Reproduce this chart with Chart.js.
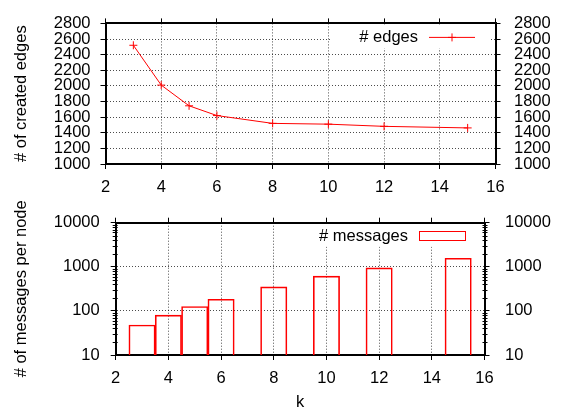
<!DOCTYPE html>
<html>
<head>
<meta charset="utf-8">
<title>edges / messages vs k</title>
<script src="https://cdn.jsdelivr.net/npm/chart.js@4.4.1/dist/chart.umd.min.js"></script>
<style>
    html, body { margin: 0; padding: 0; background: #fff; }
    #wrap { position: relative; width: 563px; height: 412px; overflow: hidden; }
    #wrap canvas { position: absolute; left: 0; }
</style>
</head>
<body>
<div id="wrap">
    <canvas id="edgesChart" width="563" height="200" style="top:0px"></canvas>
    <canvas id="msgChart" width="563" height="222" style="top:190px"></canvas>
</div>
<script>
// ---- data ----
const kValues = [3, 4, 5, 6, 8, 10, 12, 15];
const edgeCounts = [2520, 2010, 1745, 1620, 1520, 1510, 1482, 1462];
const messageCounts = [48, 80, 126, 184, 352, 612, 945, 1565];
const kTicks = [2, 4, 6, 8, 10, 12, 14, 16];
const edgeTicks = [1000, 1200, 1400, 1600, 1800, 2000, 2200, 2400, 2600, 2800];
const messageTicks = [10, 100, 1000, 10000];

const FONT = { family: "'Liberation Sans', Arial, Helvetica, sans-serif", size: 16.5 };
const RED = '#ff0000';
const GRID = 'rgba(0,0,0,0.7)';

Chart.defaults.font.family = FONT.family;
Chart.defaults.font.size = FONT.size;
Chart.defaults.color = '#000';

// fixed axis box sizes so the plot areas land where the reference has them
const fixWidth = w => scale => { scale.width = w; };
const fixHeight = h => scale => { scale.height = h; };
const useTicks = list => scale => { scale.ticks = list.map(v => ({ value: v })); };

function xAxes(cfg) {
    return {
        x: {
            type: 'linear', position: 'bottom', min: 2, max: 16, offset: false,
            afterBuildTicks: useTicks(kTicks),
            afterFit: fixHeight(cfg.bottom),
            ticks: { autoSkip: false, maxRotation: 0, padding: cfg.xPad, font: FONT, color: '#000' },
            grid: { color: GRID, tickBorderDash: [], tickColor: '#000', tickLength: 5, offset: false },
            border: { color: '#000', width: 2, dash: [1, 2] },
            title: cfg.xTitle ? { display: true, text: cfg.xTitle, font: FONT, color: '#000',
                                  padding: { top: 0, bottom: 0 } } : { display: false }
        },
        x2: {
            type: 'linear', position: 'top', min: 2, max: 16, offset: false,
            afterBuildTicks: useTicks(kTicks),
            afterFit: fixHeight(cfg.top),
            ticks: { display: false, autoSkip: false },
            grid: { drawOnChartArea: false, tickColor: '#000', tickLength: 5, offset: false },
            border: { color: '#000', width: 2 }
        }
    };
}

function yAxes(cfg) {
    const common = {
        type: cfg.type, min: cfg.min, max: cfg.max,
        afterBuildTicks: useTicks(cfg.ticks)
    };
    return {
        y: Object.assign({}, common, {
            position: 'left',
            afterFit: fixWidth(cfg.left),
            ticks: { autoSkip: false, padding: cfg.lPad, font: FONT, color: '#000', callback: v => String(v) },
            grid: { color: GRID, tickBorderDash: [], tickColor: '#000', tickLength: 5 },
            border: { color: '#000', width: 2, dash: [1, 2] },
            title: { display: true, text: cfg.title, font: FONT, color: '#000',
                     padding: { top: 12, bottom: 0 } }
        }),
        y2: Object.assign({}, common, {
            position: 'right',
            afterFit: fixWidth(cfg.right),
            ticks: { autoSkip: false, padding: cfg.rPad, font: FONT, color: '#000', callback: v => String(v) },
            grid: { drawOnChartArea: false, tickColor: '#000', tickLength: 5 },
            border: { color: '#000', width: 2 }
        })
    };
}

// gnuplot-like key: opaque box with label and a sample of the series
function keyPlugin(opts) {
    return {
        id: 'key',
        afterDraw(chart) {
            const a = chart.chartArea;
            const ctx = chart.ctx;
            const cy = a.top + opts.dy;
            ctx.save();
            ctx.fillStyle = '#fff';
            ctx.fillRect(a.right - opts.boxLeft, a.top + 2, opts.boxLeft - opts.boxRight, opts.boxH);
            ctx.fillStyle = '#000';
            ctx.font = FONT.size + 'px ' + FONT.family;
            ctx.textAlign = 'right';
            ctx.textBaseline = 'middle';
            ctx.fillText(opts.label, a.right - opts.textRight, cy);
            ctx.strokeStyle = RED;
            ctx.lineWidth = 1;
            opts.sample(ctx, a.right - opts.sampleLeft, a.right - opts.sampleRight, cy);
            ctx.restore();
        }
    };
}

// minor ticks on a log axis (2..9 within each decade)
const logMinorTicks = {
    id: 'logMinor',
    afterDraw(chart) {
        const s = chart.scales.y;
        const a = chart.chartArea;
        const ctx = chart.ctx;
        ctx.save();
        ctx.strokeStyle = '#000';
        ctx.lineWidth = 1;
        ctx.beginPath();
        for (let d = 10; d < 10000; d *= 10) {
            for (let m = 2; m <= 9; m++) {
                const y = Math.round(s.getPixelForValue(d * m)) + 0.5;
                ctx.moveTo(a.left - 3, y); ctx.lineTo(a.left + 2, y);
                ctx.moveTo(a.right - 2, y); ctx.lineTo(a.right + 3, y);
            }
        }
        ctx.stroke();
        ctx.restore();
    }
};

// ---- top: created edges ----
new Chart(document.getElementById('edgesChart'), {
    type: 'line',
    data: {
        datasets: [{
            label: '# edges',
            data: kValues.map((k, i) => ({ x: k, y: edgeCounts[i] })),
            borderColor: RED,
            borderWidth: 1,
            tension: 0,
            fill: false,
            pointStyle: 'cross',
            pointRadius: 4,
            pointBorderColor: RED,
            pointBorderWidth: 1
        }]
    },
    options: {
        responsive: false,
        animation: false,
        devicePixelRatio: 1,
        layout: { padding: 0 },
        plugins: { legend: { display: false }, tooltip: { enabled: false } },
        scales: Object.assign(
            xAxes({ top: 11, bottom: 36, xPad: 9 }),
            yAxes({ type: 'linear', min: 1000, max: 2800, ticks: edgeTicks,
                    left: 105.5, right: 67.5, lPad: 10, rPad: 13.5, title: '# of created edges' })
        )
    },
    plugins: [keyPlugin({
        label: '# edges', dy: 14, boxLeft: 164, boxRight: 5.5, boxH: 23,
        textRight: 77.5, sampleLeft: 66.5, sampleRight: 20.5,
        sample(ctx, x0, x1, y) {
            const xm = (x0 + x1) / 2;
            ctx.beginPath();
            ctx.moveTo(x0, y); ctx.lineTo(x1, y);
            ctx.moveTo(xm - 4, y); ctx.lineTo(xm + 4, y);
            ctx.moveTo(xm, y - 4); ctx.lineTo(xm, y + 4);
            ctx.stroke();
        }
    })]
});

// ---- bottom: messages per node (log) ----
new Chart(document.getElementById('msgChart'), {
    type: 'bar',
    data: {
        datasets: [{
            label: '# messages',
            data: kValues.map((k, i) => ({ x: k, y: messageCounts[i] })),
            backgroundColor: 'rgba(0,0,0,0)',
            borderColor: RED,
            borderWidth: 1,
            borderSkipped: 'bottom',
            barPercentage: 1,
            categoryPercentage: 1
        }]
    },
    options: {
        responsive: false,
        animation: false,
        devicePixelRatio: 1,
        layout: { padding: 0 },
        plugins: { legend: { display: false }, tooltip: { enabled: false } },
        scales: Object.assign(
            xAxes({ top: 32.7, bottom: 57, xPad: 9, xTitle: 'k' }),
            yAxes({ type: 'logarithmic', min: 10, max: 10000, ticks: messageTicks,
                    left: 115.7, right: 78.5, lPad: 11, rPad: 15.5, title: '# of messages per node' })
        )
    },
    plugins: [logMinorTicks, keyPlugin({
        label: '# messages', dy: 13.3, boxLeft: 185, boxRight: 15, boxH: 22,
        textRight: 76.5, sampleLeft: 65.5, sampleRight: 19.5,
        sample(ctx, x0, x1, y) {
            ctx.strokeRect(x0 + 0.5, y - 4.5, x1 - x0, 9);
        }
    })]
});
</script>
</body>
</html>
